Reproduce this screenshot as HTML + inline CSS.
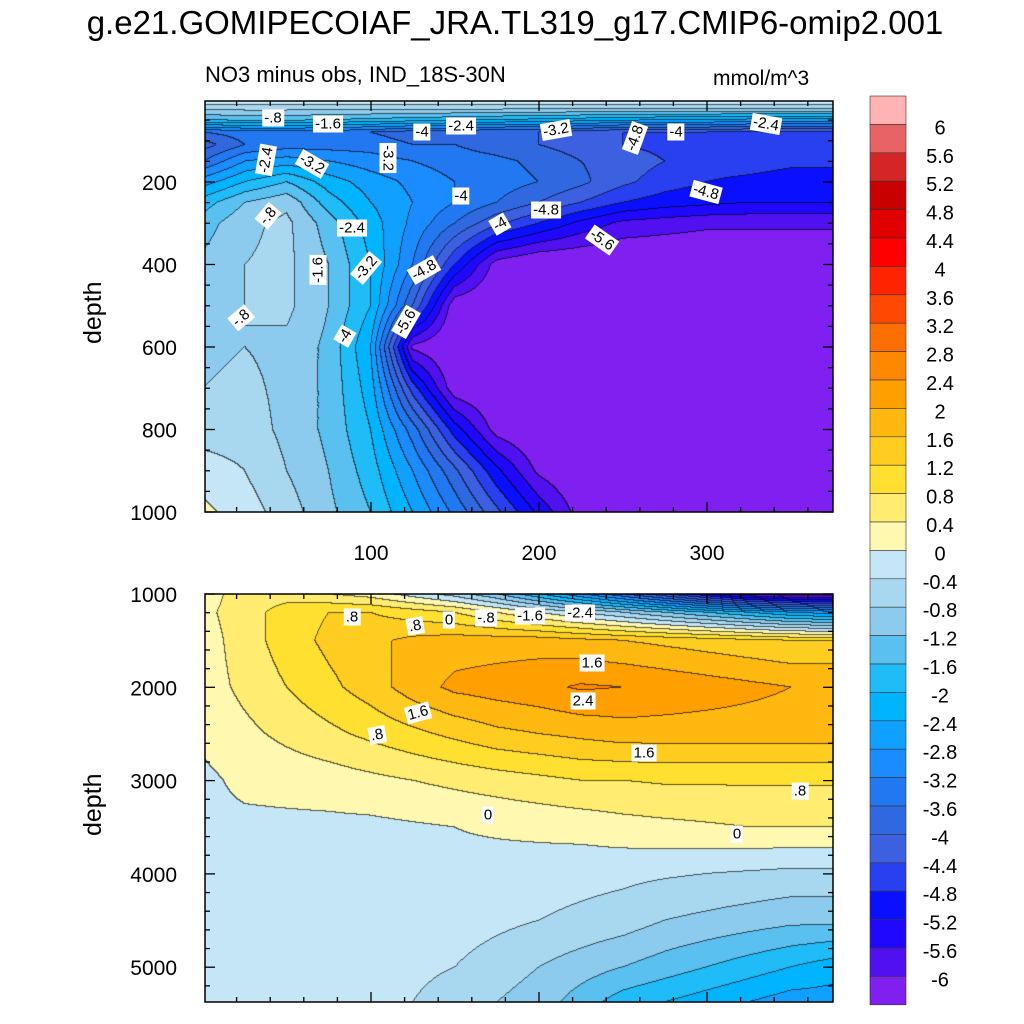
<!DOCTYPE html>
<html><head><meta charset="utf-8">
<style>
body{margin:0;background:#fff;width:1024px;height:1024px;position:relative;overflow:hidden;font-family:"Liberation Sans",sans-serif;}
.t{position:absolute;color:#000;white-space:nowrap;}
.lab{position:absolute;background:#fff;font-size:15px;padding:0 2px;line-height:17px;}
canvas{position:absolute;}
</style></head>
<body>
<div class="t" style="left:0;width:1030px;text-align:center;top:4px;font-size:33px;">g.e21.GOMIPECOIAF_JRA.TL319_g17.CMIP6-omip2.001</div>
<div class="t" style="left:205px;top:62px;font-size:22px;">NO3 minus obs, IND_18S-30N</div>
<div class="t" style="left:713px;top:67px;font-size:21px;">mmol/m^3</div>
<div class="t" style="left:79px;top:344px;font-size:25px;transform:rotate(-90deg);transform-origin:left top;">depth</div>
<div class="t" style="left:79px;top:836px;font-size:25px;transform:rotate(-90deg);transform-origin:left top;">depth</div>
<canvas id="cv" width="1024" height="1024" style="left:0;top:0"></canvas>
<svg id="sv" width="1024" height="1024" style="position:absolute;left:0;top:0"></svg>
<div id="labs"></div>
<script>
const levels=[-6,-5.6,-5.2,-4.8,-4.4,-4,-3.6,-3.2,-2.8,-2.4,-2,-1.6,-1.2,-0.8,-0.4,0,0.4,0.8,1.2,1.6,2,2.4,2.8,3.2,3.6,4,4.4,4.8,5.2,5.6,6];
const colors=["#8020f0","#5010f0","#2008ff","#0a10ff","#2840f0","#3c60e0","#3068e0","#2278f0","#1a8cff","#10a0ff","#00b4ff","#20bcf8","#5ac0f0","#8ccbee","#a8d8f0","#c4e6f6","#fff8b0","#ffec70","#ffe030","#ffcc20","#ffb810","#ffa000","#ff8800","#ff6e00","#ff4800","#ff2400","#ff0000","#e00000","#c80000","#d42626","#e86464","#ffb3b3"];
const cbLabels=["6","5.6","5.2","4.8","4.4","4","3.6","3.2","2.8","2.4","2","1.6","1.2","0.8","0.4","0","-0.4","-0.8","-1.2","-1.6","-2","-2.4","-2.8","-3.2","-3.6","-4","-4.4","-4.8","-5.2","-5.6","-6"];
const xCoords=[0,25,50,75,100,125,150,175,200,225,250,275,300,325,350,375];
const topDepths=[0,20,50,80,110,150,200,250,300,400,500,600,700,800,900,1000];
const topValues=[
[0.1,0.1,0.1,0.1,0.1,0.1,0.1,0.1,0.1,0.1,0.1,0.1,0.1,0.1,0.1,0.1],
[-0.6,-0.6,-0.6,-0.6,-0.6,-0.6,-0.6,-0.6,-0.6,-0.6,-0.6,-0.6,-0.6,-0.6,-0.6,-0.6],
[-1.6,-1.5,-1.5,-1.6,-1.7,-1.8,-1.9,-2.0,-2.1,-2.2,-2.3,-2.4,-2.4,-2.5,-2.5,-2.5],
[-3.6,-3.4,-3.4,-3.4,-3.6,-3.8,-3.8,-4.0,-4.0,-4.2,-4.4,-4.4,-4.4,-4.5,-4.5,-4.5],
[-4.2,-3.6,-3.4,-3.4,-3.4,-3.6,-3.6,-3.8,-4.0,-4.2,-4.4,-4.5,-4.6,-4.6,-4.6,-4.6],
[-3.6,-2.8,-2.6,-2.8,-3.0,-3.2,-3.4,-3.5,-3.7,-4.0,-4.2,-4.4,-4.6,-4.6,-4.7,-4.7],
[-2.6,-2.0,-1.6,-2.2,-2.6,-2.9,-3.2,-3.4,-3.6,-3.9,-4.3,-4.6,-4.8,-4.9,-5.0,-5.0],
[-1.8,-1.2,-0.9,-1.8,-2.4,-2.8,-3.2,-3.6,-4.0,-4.4,-4.8,-5.0,-5.1,-5.2,-5.2,-5.2],
[-1.4,-0.9,-0.7,-1.4,-2.2,-2.9,-3.6,-4.3,-4.8,-5.3,-5.7,-5.8,-5.9,-5.9,-5.9,-5.9],
[-1.1,-0.8,-0.7,-1.2,-2.0,-3.2,-4.8,-6.2,-6.5,-6.5,-6.5,-6.5,-6.5,-6.5,-6.5,-6.5],
[-1.0,-0.8,-0.7,-1.2,-2.0,-4.0,-6.3,-6.5,-6.5,-6.5,-6.5,-6.5,-6.5,-6.5,-6.5,-6.5],
[-0.9,-0.8,-0.9,-1.3,-2.4,-6.1,-6.5,-6.5,-6.5,-6.5,-6.5,-6.5,-6.5,-6.5,-6.5,-6.5],
[-0.8,-0.7,-0.9,-1.3,-2.2,-4.6,-6.3,-6.5,-6.5,-6.5,-6.5,-6.5,-6.5,-6.5,-6.5,-6.5],
[-0.6,-0.6,-0.9,-1.3,-2.0,-3.4,-5.0,-6.2,-6.5,-6.5,-6.5,-6.5,-6.5,-6.5,-6.5,-6.5],
[-0.2,-0.4,-0.8,-1.2,-1.8,-2.8,-3.9,-5.1,-6.1,-6.5,-6.5,-6.5,-6.5,-6.5,-6.5,-6.5],
[0.1,-0.2,-0.6,-1.1,-1.6,-2.4,-3.3,-4.3,-5.3,-6.2,-6.5,-6.5,-6.5,-6.5,-6.5,-6.5]];
const botDepths=[1000,1200,1500,2000,2500,3000,3500,4000,4500,5000,5375];
const botValues=[
[0.2,0.6,0.6,0.4,0.2,-0.2,-0.6,-1.2,-2.0,-2.8,-3.6,-4.4,-5.2,-6.1,-6.4,-6.5],
[0.3,0.6,1.0,1.2,1.2,1.0,0.8,0.4,0.0,-0.4,-0.8,-1.2,-1.6,-2.0,-2.4,-2.6],
[0.2,0.6,1.0,1.3,1.5,1.7,1.8,1.8,1.8,1.7,1.6,1.5,1.4,1.3,1.2,1.2],
[0.2,0.5,0.8,1.1,1.4,1.8,2.1,2.2,2.3,2.45,2.4,2.3,2.2,2.1,2.0,2.0],
[0.1,0.3,0.5,0.7,0.9,1.1,1.3,1.5,1.6,1.7,1.8,1.8,1.8,1.8,1.8,1.8],
[-0.1,0.1,0.15,0.2,0.3,0.4,0.5,0.6,0.7,0.8,0.8,0.85,0.85,0.85,0.85,0.85],
[-0.1,-0.1,-0.1,-0.1,-0.1,-0.05,0.0,0.05,0.1,0.15,0.25,0.3,0.35,0.4,0.4,0.4],
[-0.1,-0.1,-0.1,-0.1,-0.1,-0.1,-0.1,-0.15,-0.2,-0.25,-0.3,-0.35,-0.4,-0.45,-0.5,-0.5],
[-0.1,-0.1,-0.1,-0.1,-0.1,-0.15,-0.2,-0.3,-0.4,-0.5,-0.6,-0.8,-0.9,-1.0,-1.1,-1.1],
[-0.1,-0.1,-0.1,-0.1,-0.2,-0.3,-0.4,-0.6,-0.8,-1.0,-1.2,-1.4,-1.6,-1.8,-2.0,-2.2],
[-0.1,-0.1,-0.1,-0.2,-0.3,-0.4,-0.6,-0.8,-1.0,-1.4,-1.8,-2.0,-2.2,-2.4,-2.6,-2.6]];
const xTicks=[100,200,300];
const topYTicks=[200,400,600,800,1000];
const botYTicks=[1000,2000,3000,4000,5000];

const PL=205,PR=833;
const xPx=v=>371+(v-100)*1.68;
const xVal=px=>100+(px-371)/1.68;
const topY=d=>182+(d-200)*0.4125;
const topD=py=>200+(py-182)/0.4125;
const botY=d=>594+(d-1000)*0.0933;
const botD=py=>1000+(py-594)/0.0933;
const TOP={y0:101,y1:512},BOT={y0:594,y1:1002};

function interp(arr,depths,x,d){
  let i=0;while(i<xCoords.length-2&&x>xCoords[i+1])i++;
  let j=0;while(j<depths.length-2&&d>depths[j+1])j++;
  let tx=Math.max(0,Math.min(1,(x-xCoords[i])/(xCoords[i+1]-xCoords[i])));
  let ty=Math.max(0,Math.min(1,(d-depths[j])/(depths[j+1]-depths[j])));
  const a=arr[j][i],b=arr[j][i+1],c=arr[j+1][i],e=arr[j+1][i+1];
  return a*(1-tx)*(1-ty)+b*tx*(1-ty)+c*(1-tx)*ty+e*tx*ty;
}
function lvl(v){let k=0;while(k<levels.length&&v>=levels[k])k++;return k;}
function hex(c){return[parseInt(c.slice(1,3),16),parseInt(c.slice(3,5),16),parseInt(c.slice(5,7),16)];}
const rgb=colors.map(hex);
const ctx=document.getElementById('cv').getContext('2d');
function drawPanel(arr,depths,P,dOf){
  const w=PR-PL,h=P.y1-P.y0;
  const idx=new Int16Array(w*h);
  for(let y=0;y<h;y++){const d=dOf(P.y0+y+0.5);
    for(let x=0;x<w;x++){idx[y*w+x]=lvl(interp(arr,depths,xVal(PL+x+0.5),d));}}
  const img=ctx.createImageData(w,h);
  for(let y=0;y<h;y++)for(let x=0;x<w;x++){
    const k=idx[y*w+x];let c=rgb[k];
    const edge=(x<w-1&&idx[y*w+x+1]!==k)||(y<h-1&&idx[(y+1)*w+x]!==k);
    const o=(y*w+x)*4;
    if(edge){img.data[o]=c[0]*0.35;img.data[o+1]=c[1]*0.35;img.data[o+2]=c[2]*0.35;}
    else{img.data[o]=c[0];img.data[o+1]=c[1];img.data[o+2]=c[2];}
    img.data[o+3]=255;}
  ctx.putImageData(img,PL,P.y0);
}
drawPanel(topValues,topDepths,TOP,topD);
drawPanel(botValues,botDepths,BOT,botD);

const NS='http://www.w3.org/2000/svg';
const sv=document.getElementById('sv');
function el(t,a){const e=document.createElementNS(NS,t);for(const k in a)e.setAttribute(k,a[k]);sv.appendChild(e);return e;}
function line(x1,y1,x2,y2,name){const e=el('line',{x1,y1,x2,y2,stroke:'#000','stroke-width':1.3});

}
function text(x,y,s,anchor,name,size){const e=el('text',{x,y,'text-anchor':anchor,'font-size':size||21,'font-family':'Liberation Sans, sans-serif'});e.textContent=s;

}
[[TOP,topY,topYTicks,50],[BOT,botY,botYTicks,200]].forEach(([P,yf,yt,minor],pi)=>{
  const r=el('rect',{x:PL,y:P.y0,width:PR-PL,height:P.y1-P.y0,fill:'none',stroke:'#000','stroke-width':1.5});
  
  
  for(let v=20;v<=360;v+=20){const px=xPx(v);const L=(v%100===0)?10:5;
    line(px,P.y1,px,P.y1-L,'x-tick');line(px,P.y0,px,P.y0+L,'x-tick');}
  const dmin=pi?1000:0,dmax=pi?5375:1000;
  for(let d=Math.ceil(dmin/minor)*minor;d<=dmax;d+=minor){const py=yf(d);if(py<P.y0-0.5||py>P.y1+0.5)continue;
    const L=yt.includes(d)?10:5;line(PL,py,PL+L,py,'y-tick');line(PR,py,PR-L,py,'y-tick');}
  yt.forEach(d=>text(177,yf(d)+8,String(d),'end','y-tick-label'));
});
xTicks.forEach(v=>text(xPx(v),560,String(v),'middle','x-tick-label'));
const cbTop=96,cbH=28.4;
for(let i=0;i<colors.length;i++){
  const r=el('rect',{x:870,y:cbTop+i*cbH,width:36,height:cbH,fill:colors[colors.length-1-i],stroke:'#333','stroke-width':0.6});
  
  
}
cbLabels.forEach((s,i)=>text(940,cbTop+(i+1)*cbH+10,s,'middle','colorbar-label',20));

const labs=[
[273,118,'-.8',0],[328,124,'-1.6',0],[422,132,'-4',0],[461,126,'-2.4',0],[556,130,'-3.2',-10],[635,138,'-4.8',-70],[676,132,'-4',0],[766,124,'-2.4',10],
[266,160,'-2.4',-80],[312,164,'-3.2',30],[388,158,'-3.2',90],[461,196,'-4',0],[706,192,'-4.8',15],[268,216,'-.8',-50],[352,228,'-2.4',0],[500,224,'-4',-30],[546,210,'-4.8',0],[602,240,'-5.6',35],
[318,270,'-1.6',-90],[366,268,'-3.2',-50],[424,270,'-4.8',-30],[406,322,'-5.6',-60],[241,318,'-.8',-40],[345,336,'-4',-60],
[352,617,'.8',0],[415,626,'.8',-10],[449,620,'0',0],[486,618,'-.8',0],[530,616,'-1.6',0],[580,613,'-2.4',0],[592,663,'1.6',0],[583,701,'2.4',0],[418,713,'1.6',-15],[377,735,'.8',-10],[644,753,'1.6',0],[800,791,'.8',0],[488,815,'0',0],[737,834,'0',0]];
const L=document.getElementById('labs');
labs.forEach(([x,y,s,r])=>{const d=document.createElement('div');d.className='lab';d.textContent=s;


d.style.left=x+'px';d.style.top=y+'px';d.style.transform='translate(-50%,-50%) rotate('+r+'deg)';L.appendChild(d);});
</script>
</body></html>
